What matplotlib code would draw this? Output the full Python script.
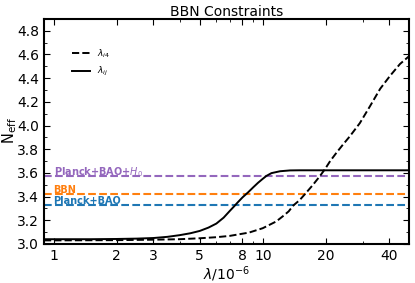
import matplotlib
matplotlib.use("Agg")
import matplotlib.pyplot as plt
from matplotlib.ticker import FixedLocator, MultipleLocator, NullFormatter

# lambda in units of 1e-6
lam_ij = [0.9, 1, 1.5, 2, 2.5, 3, 3.5, 4, 4.5, 5, 5.5, 6, 6.5, 6.95, 7.3, 7.6, 8.0, 8.5,
          9.0, 9.5, 10.0, 10.4, 11.0, 12.1, 13.5, 15, 20, 30, 50]
neff_ij = [3.04, 3.04, 3.04, 3.042, 3.045, 3.05, 3.06, 3.074, 3.09, 3.11, 3.138, 3.172,
           3.222, 3.278, 3.318, 3.352, 3.393, 3.435, 3.478, 3.517, 3.55, 3.574, 3.598,
           3.614, 3.621, 3.622, 3.622, 3.622, 3.622]

lam_i4 = [0.9, 1, 2, 3, 4, 5, 6, 6.95, 8.6, 10, 11.6, 12.5, 13.3, 14.0, 15.0, 15.9, 17.3,
          18.7, 19.8, 21, 22.5, 24.2, 26.1, 29.1, 32.6, 36.4, 40.6, 45.3, 50]
neff_i4 = [3.03, 3.03, 3.032, 3.036, 3.04, 3.048, 3.057, 3.068, 3.096, 3.133, 3.19,
           3.235, 3.275, 3.325, 3.37, 3.42, 3.495, 3.57, 3.63, 3.70, 3.77, 3.84, 3.91,
           4.02, 4.165, 4.31, 4.42, 4.52, 4.585]

constraints = ["Planck+BAO+$H_0$", "BBN", "Planck+BAO"]
constraint_vals = [3.575, 3.42, 3.328]
constraint_colors = ["tab:purple", "tab:orange", "tab:blue"]
label_y = [3.605, 3.455, 3.365]

xticks = [1, 2, 3, 5, 8, 10, 20, 40]

fig = plt.figure(figsize=(4.15, 2.83), dpi=100)
ax = fig.add_axes([0.106, 0.138, 0.8795, 0.795])

for name, val, c, ly in zip(constraints, constraint_vals, constraint_colors, label_y):
    ax.axhline(val, color=c, ls="--", lw=1.5)
    ax.text(1.0, ly, name, color=c, fontsize=7, fontweight="bold", va="center")

ax.plot(lam_i4, neff_i4, "k--", lw=1.4, label=r"$\lambda_{i4}$")
ax.plot(lam_ij, neff_ij, "k-", lw=1.4, label=r"$\lambda_{ij}$")

ax.set_xscale("log")
ax.set_xlim(0.9, 50)
ax.set_ylim(3.0, 4.9)
ax.xaxis.set_major_locator(FixedLocator(xticks))
ax.set_xticklabels([str(t) for t in xticks])
ax.xaxis.set_minor_formatter(NullFormatter())
ax.yaxis.set_major_locator(MultipleLocator(0.2))
ax.yaxis.set_minor_locator(MultipleLocator(0.1))
ax.tick_params(which="both", direction="in", top=True, right=True, labelsize=10)
ax.tick_params(which="major", length=4)
ax.tick_params(which="minor", length=2)
for s in ax.spines.values():
    s.set_linewidth(1.5)

ax.set_xlabel(r"$\lambda/10^{-6}$", fontsize=10, labelpad=1)
ax.set_ylabel(r"N$_{\rm eff}$", fontsize=10.5)
ax.yaxis.set_label_coords(-0.068, 0.505)
ax.set_title("BBN Constraints", fontsize=10, pad=2)
ax.legend(loc="upper left", frameon=False, fontsize=6.5, handlelength=2.0,
          labelspacing=0.6, bbox_to_anchor=(0.055, 0.91))

fig.savefig("out.png", dpi=100)
